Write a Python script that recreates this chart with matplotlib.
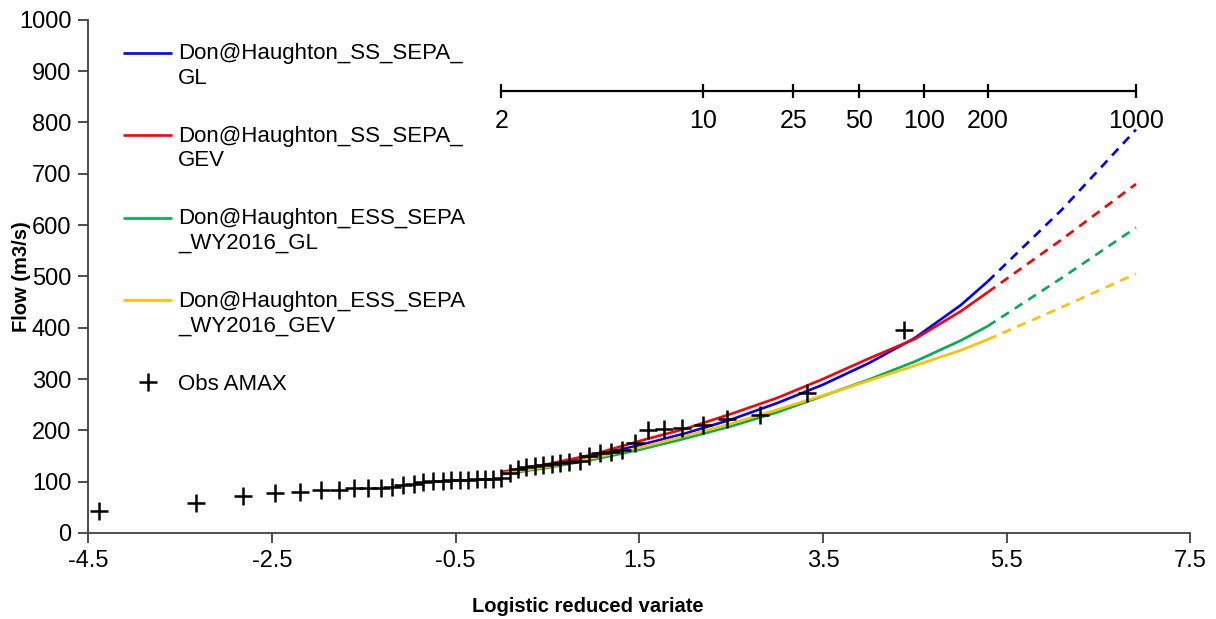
import numpy as np
import matplotlib
matplotlib.use("Agg")
import matplotlib.pyplot as plt
from matplotlib.legend_handler import HandlerLine2D

plt.rcParams['font.family'] = ['Liberation Sans', 'DejaVu Sans']

# fitted growth curves, logistic reduced variate vs flow
x_fit = [0.0, 0.5, 1.0, 1.5, 2.0, 2.5, 3.0, 3.5, 4.0, 4.5, 5.0, 5.293]
ss_gl = [118, 132, 150, 171, 194, 221, 253, 289, 331, 380, 444, 490]
ss_gev = [119, 134, 153, 179, 203, 232, 263, 300, 340, 378, 432, 469]
ess_gl = [114, 127, 143, 162, 184, 208, 235, 267, 299, 334, 375, 403]
ess_gev = [116, 129, 146, 166, 189, 213, 240, 268, 297, 326, 356, 377]

# extrapolated part (200 -> 1000 yr)
x_ext = [5.293, 6.1, 6.907]
ss_gl_ext = [490, 630, 786]
ss_gev_ext = [469, 572, 680]
ess_gl_ext = [403, 497, 595]
ess_gev_ext = [377, 440, 505]

# observed annual maxima
obs_x = [-4.38, -3.33, -2.81, -2.46, -2.19, -1.96, -1.77, -1.60, -1.45, -1.31,
         -1.19, -1.07, -0.95, -0.85, -0.74, -0.64, -0.55, -0.45, -0.36, -0.27,
         -0.18, -0.09, 0.00, 0.09, 0.18, 0.27, 0.36, 0.45, 0.55, 0.64,
         0.74, 0.85, 0.95, 1.07, 1.19, 1.31, 1.45, 1.60, 1.77, 1.96,
         2.19, 2.46, 2.81, 3.33, 4.38]
obs_q = [42, 58, 72, 78, 80, 84, 84, 87, 87, 88,
         90, 93, 96, 100, 102, 102, 103, 103, 104, 105,
         106, 106, 108, 117, 124, 128, 130, 133, 135, 136,
         138, 140, 150, 155, 157, 162, 176, 201, 203, 204,
         211, 222, 230, 273, 395]

return_periods = [2, 10, 25, 50, 100, 200, 1000]
rp_level = 862

names = ["Don@Haughton_SS_SEPA_\nGL", "Don@Haughton_SS_SEPA_\nGEV",
         "Don@Haughton_ESS_SEPA\n_WY2016_GL", "Don@Haughton_ESS_SEPA\n_WY2016_GEV"]
colors = ["#0000FF", "#FF0000", "#00B050", "#FFC000"]


class FirstLineHandler(HandlerLine2D):
    # put the legend line next to the first text line
    def create_artists(self, legend, orig_handle, xdescent, ydescent, width,
                       height, fontsize, trans):
        arts = super().create_artists(legend, orig_handle, xdescent, ydescent,
                                      width, height, fontsize, trans)
        if "\n" in orig_handle.get_label():
            for a in arts:
                a.set_ydata(np.asarray(a.get_ydata()) + 0.6 * fontsize)
        return arts


fig = plt.figure(figsize=(12.16, 6.19), dpi=100)
ax = fig.add_axes([0.0724, 0.139, 0.9066, 0.829])

handles = []
for fit, ext, c, n in zip([ss_gl, ss_gev, ess_gl, ess_gev],
                          [ss_gl_ext, ss_gev_ext, ess_gl_ext, ess_gev_ext],
                          colors, names):
    h, = ax.plot(x_fit, fit, color=c, lw=1.9, label=n, solid_capstyle='butt')
    ax.plot(x_ext, ext, color=c, lw=1.9, linestyle=(0, (3.5, 2.6)))
    handles.append(h)

hp, = ax.plot(obs_x, obs_q, linestyle='none', marker='+', ms=13, mew=1.8,
              color='black', label="Obs AMAX")
handles.append(hp)

# return period scale
rp_x = np.log(np.array(return_periods) - 1.0)
ax.plot(rp_x, [rp_level] * len(rp_x), color='black', lw=1.6, marker='|',
        ms=10, mew=1.6)
for px, t in zip(rp_x, return_periods):
    ax.text(px, rp_level - 59, str(t), ha='center', va='center', fontsize=18)

ax.set_xlim(-4.5, 7.5)
ax.set_ylim(0, 1000)
ax.set_xticks(np.arange(-4.5, 7.6, 2.0))
ax.set_xticklabels([f"{v:g}" for v in np.arange(-4.5, 7.6, 2.0)])
ax.set_yticks(np.arange(0, 1001, 100))
for s in ['top', 'right']:
    ax.spines[s].set_visible(False)
for s in ['left', 'bottom']:
    ax.spines[s].set_color('#404040')
    ax.spines[s].set_linewidth(1.3)
ax.tick_params(axis='both', direction='out', length=7, width=1.3,
               color='#404040', labelsize=17, pad=5)

ax.set_ylabel("Flow (m3/s)", fontsize=14.5, fontweight='bold')
ax.yaxis.set_label_coords(-0.052, 0.5)
ax.set_xlabel("Logistic reduced variate", fontsize=14.5, fontweight='bold')
ax.xaxis.set_label_coords(0.453, -0.125)

leg = ax.legend(handles=handles, loc='upper left',
                bbox_to_anchor=(0.014, 0.993), frameon=False, fontsize=16,
                handlelength=2.2, handletextpad=0.25, labelspacing=1.68,
                handler_map={plt.Line2D: FirstLineHandler()})

fig.savefig("out.png", dpi=100)
